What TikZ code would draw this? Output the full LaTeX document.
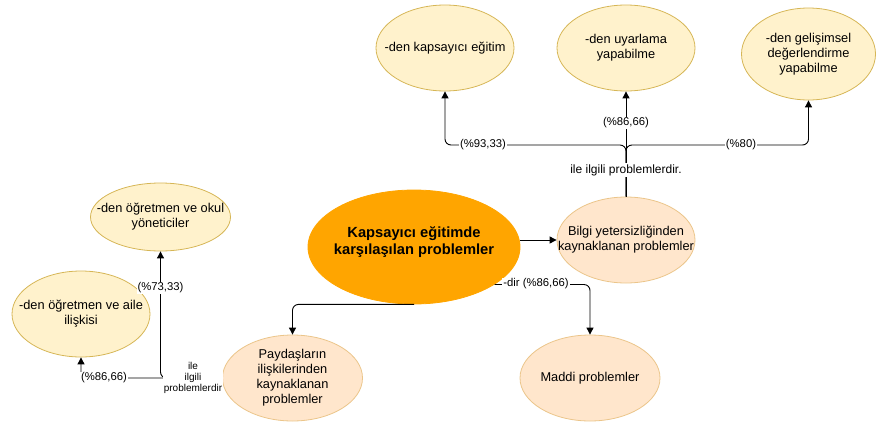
\documentclass[tikz,border=0pt]{standalone}
\usepackage{fontspec}
\setmainfont{Liberation Sans}
\usetikzlibrary{shapes.geometric,arrows.meta}
\definecolor{hub}{HTML}{FFA500}
\definecolor{peach}{HTML}{FFE6CC}
\definecolor{peachline}{HTML}{EBC58A}
\definecolor{cream}{HTML}{FFF2CC}
\definecolor{creamline}{HTML}{D6B656}
\begin{document}
\begin{tikzpicture}[x=1pt,y=-1pt,
  % negative inner sep lets the minimum size alone fix the ellipse size
  bubble/.style={ellipse, inner xsep=-100pt, inner ysep=-50pt, align=center,
    line width=0.8pt, font=\fontsize{12.8}{15}\selectfont},
  hubnode/.style={bubble, fill=hub, draw=hub, text depth=13pt,
    font=\bfseries\fontsize{14.7}{17.7}\selectfont},
  causenode/.style={bubble, fill=peach, draw=peachline},
  detailnode/.style={bubble, fill=cream, draw=creamline},
  link/.style={line width=0.9pt, rounded corners=6pt},
  arrowlink/.style={link, -{Triangle[length=7pt,width=7pt]}},
  tag/.style={fill=white, inner sep=1pt, font=\fontsize{11.3}{13}\selectfont},
  smalltag/.style={fill=white, inner sep=1pt, align=center,
    font=\fontsize{10}{11}\selectfont}]
\useasboundingbox (0,0) rectangle (877,423);

% central topic
\node[hubnode, minimum width=212pt, minimum height=114pt] (hub) at (414,247)
  {Kapsayıcı eğitimde\\karşılaşılan problemler};

% problem sources
\node[causenode, minimum width=138pt, minimum height=86pt] (bilgi) at (626,240)
  {Bilgi yetersizliğinden\\kaynaklanan problemler};
\node[causenode, minimum width=140pt, minimum height=86pt] (maddi) at (590,378)
  {Maddi problemler};
\node[causenode, minimum width=140pt, minimum height=86pt] (pay) at (292.5,378)
  {Paydaşların\\ilişkilerinden\\kaynaklanan\\problemler};

% details
\node[detailnode, minimum width=138pt, minimum height=86pt] (kap) at (445,48)
  {-den kapsayıcı eğitim};
\node[detailnode, minimum width=138pt, minimum height=86pt] (uyar) at (626,48)
  {-den uyarlama\\yapabilme};
\node[detailnode, minimum width=134pt, minimum height=92pt] (gel) at (808.5,54)
  {-den gelişimsel\\değerlendirme\\yapabilme};
\node[detailnode, minimum width=140pt, minimum height=68pt] (okul) at (160.5,217)
  {-den öğretmen ve okul\\yöneticiler};
\node[detailnode, minimum width=138pt, minimum height=86pt] (aile) at (81,314)
  {-den öğretmen ve aile\\ilişkisi};

% junction points
\coordinate (topfork) at (626,145);

% connectors
\draw[arrowlink] (bilgi.west -| hub.east) -- (bilgi.west);
\draw[arrowlink] (bilgi.north) -- (topfork) -| (kap.south);
\draw[arrowlink] (bilgi.north) -- (uyar.south);
\draw[arrowlink] (bilgi.north) -- (topfork) -| (gel.south);
\draw[arrowlink] (hub.-25) -| (maddi.north);
\draw[arrowlink] (hub.south) -| (pay.north);
\draw[arrowlink] (pay.west) -| (okul.south);
\draw[arrowlink] (pay.west) -| (aile.south);

% connector labels
\node[tag, font=\fontsize{12}{14}\selectfont] (l1) at (626,170) {ile ilgili problemlerdir.};
\node[tag] (l2) at (626,123) {(\%86,66)};
\node[tag] (l3) at (483,145) {(\%93,33)};
\node[tag] (l4) at (741,145) {(\%80)};
\node[tag] (l5) at (536,284) {-dir (\%86,66)};
\node[smalltag] (l6) at (193,378) {ile\\ilgili\\problemlerdir};
\node[tag] (l7) at (104,378) {(\%86,66)};
\node[tag] (l8) at (160.5,288) {(\%73,33)};
\end{tikzpicture}
\end{document}
